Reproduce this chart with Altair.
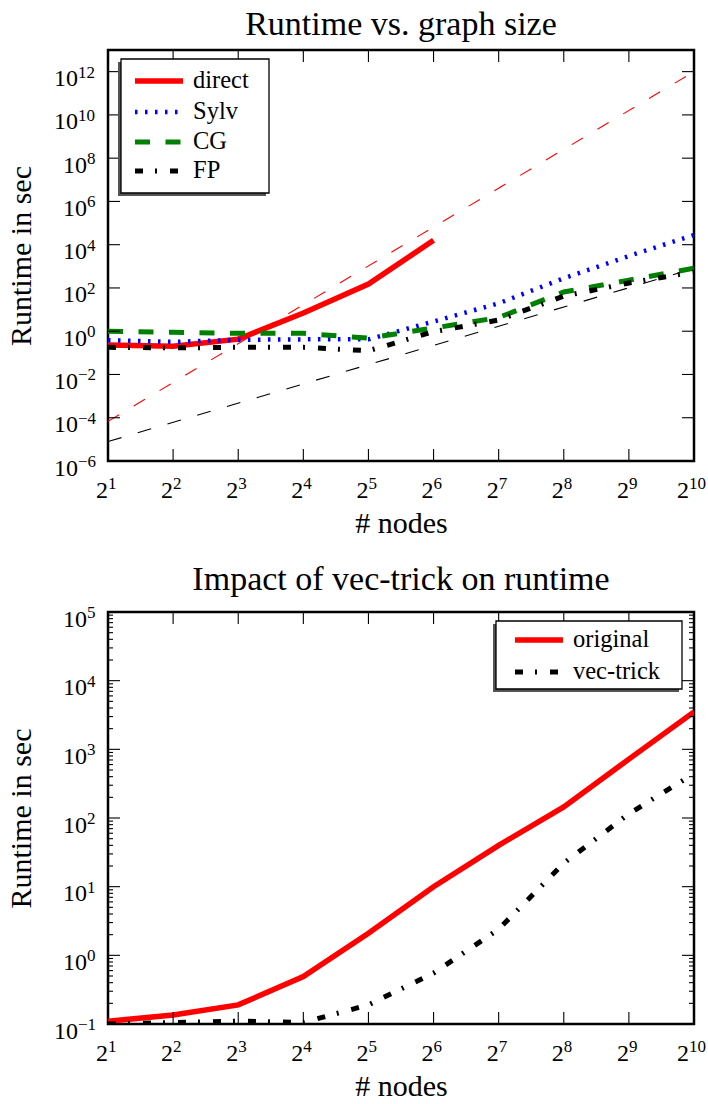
import altair as alt
import pandas as pd

# ---------------- data ----------------
nodes = [2, 4, 8, 16, 32, 64, 128, 256, 512, 1024]
direct_nodes = [2, 4, 8, 16, 32, 64]
direct = [0.23, 0.2, 0.43, 7.0, 150.0, 1.6e4]
sylv = [0.38, 0.32, 0.40, 0.42, 0.42, 2.8, 19.5, 280.0, 3000.0, 2.8e4]
cg = [1.0, 0.9, 0.8, 0.8, 0.48, 1.4, 4.3, 65.0, 230.0, 820.0]
fp = [0.18, 0.17, 0.18, 0.18, 0.125, 0.95, 3.3, 42.0, 170.0, 550.0]
ref_nodes = [2, 1024]
ref_direct = [6.8e-5, 1e12]
ref_fp = [7.9e-6, 790.0]

original = [0.11, 0.135, 0.19, 0.49, 2.1, 10.0, 40.0, 145.0, 720.0, 3500.0]
vec_trick = [0.1, 0.105, 0.11, 0.105, 0.19, 0.55, 2.4, 22.0, 115.0, 445.0]

# tick labels: base and exponent
x_ticks = [2, 4, 8, 16, 32, 64, 128, 256, 512, 1024]
x_exps = ["1", "2", "3", "4", "5", "6", "7", "8", "9", "10"]
top_y_ticks = [1e-6, 1e-4, 1e-2, 1.0, 1e2, 1e4, 1e6, 1e8, 1e10, 1e12]
top_y_exps = ["−6", "−4", "−2", "0", "2", "4", "6", "8", "10", "12"]
bot_y_ticks = [0.1, 1.0, 10.0, 100.0, 1e3, 1e4, 1e5]
bot_y_exps = ["−1", "0", "1", "2", "3", "4", "5"]
bot_minor = [k * 10.0 ** e for e in range(-1, 5) for k in range(2, 10)]

top_legend = [("direct", "#ff0000", None, 5.5), ("Sylv", "#0000ff", [2.5, 7.5], 4.5),
              ("CG", "#008000", [15, 15.5], 5), ("FP", "#000000", [8, 12, 2, 13], 5)]
bot_legend = [("original", "#ff0000", None, 5.5), ("vec-trick", "#000000", [8, 12, 2, 13], 5)]

FONT = "Liberation Serif"
W = 586
H1 = 411
H2 = 412
BASE_FS = 24
EXP_FS = 17

AX = dict(titleFont=FONT, titleFontSize=30, titleFontWeight="normal", titleColor="black",
          labels=False, ticks=False, domain=False, grid=False)


def X():
    return alt.X("n:Q",
                 scale=alt.Scale(type="log", base=2, domain=[2, 1024], nice=False),
                 axis=alt.Axis(title="# nodes", minExtent=40, maxExtent=40, titlePadding=7, **AX))


def Y(domain):
    return alt.Y("v:Q",
                 scale=alt.Scale(type="log", domain=domain, nice=False),
                 axis=alt.Axis(title="Runtime in sec", minExtent=64, maxExtent=64,
                               titlePadding=8, **AX))


def panel(series, yt, ye, ydom, H, major_y, minor_y, legend, box, title):
    y = lambda: Y(ydom)
    layers = []
    for xs, ys, color, width, dash in series:
        kw = dict(color=color, strokeWidth=width, clip=True, strokeCap="butt")
        if dash:
            kw["strokeDash"] = dash
        layers.append(alt.Chart(pd.DataFrame({"n": xs, "v": ys})).mark_line(**kw)
                      .encode(x=X(), y=y()))
    # inward ticks
    dfx = pd.DataFrame({"n": x_ticks[1:-1]})
    for y1, y2 in [(H, H - 12), (0, 12)]:
        layers.append(alt.Chart(dfx).mark_rule(color="black", strokeWidth=1.1)
                      .encode(x=X(), y=alt.value(y1), y2=alt.value(y2)))
    for vals, ln in [(major_y, 12), (minor_y, 5)]:
        if not vals:
            continue
        dfy = pd.DataFrame({"v": vals})
        for x1, x2 in [(0, ln), (W - ln, W)]:
            layers.append(alt.Chart(dfy).mark_rule(color="black", strokeWidth=1.1, clip=True)
                          .encode(y=y(), x=alt.value(x1), x2=alt.value(x2)))
    # tick labels (base + raised exponent)
    for g in (1, 2):
        sel = [(t, e) for t, e in zip(yt, ye) if len(e) == g]
        if sel:
            df = pd.DataFrame({"v": [t for t, _ in sel], "e": [e for _, e in sel]})
            xa = -12 - g * 9
            layers.append(alt.Chart(df).mark_text(text="10", font=FONT, fontSize=BASE_FS,
                                                  align="right", baseline="middle", dy=7.5,
                                                  color="black")
                          .encode(y=y(), x=alt.value(xa)))
            layers.append(alt.Chart(df).mark_text(font=FONT, fontSize=EXP_FS, align="left",
                                                  baseline="middle", dy=1, color="black")
                          .encode(y=y(), x=alt.value(xa), text="e:N"))
        selx = [(t, e) for t, e in zip(x_ticks, x_exps) if len(e) == g]
        dfx2 = pd.DataFrame({"n": [t for t, _ in selx], "e": [e for _, e in selx]})
        dx = 0 if g == 1 else -5
        layers.append(alt.Chart(dfx2).mark_text(text="2", font=FONT, fontSize=BASE_FS,
                                                align="right", baseline="middle", dx=dx,
                                                color="black")
                      .encode(x=X(), y=alt.value(H + 29.5)))
        layers.append(alt.Chart(dfx2).mark_text(font=FONT, fontSize=EXP_FS, align="left",
                                                baseline="middle", dx=dx, color="black")
                      .encode(x=X(), y=alt.value(H + 23), text="e:N"))
    # legend
    dummy = pd.DataFrame({"k": [0]})
    bx1, by1, bx2, by2, rows_y, sx1, sx2, tx = box
    layers.append(alt.Chart(dummy).mark_rect(color="#555555")
                  .encode(x=alt.value(bx1 - 3), x2=alt.value(bx2 - 3),
                          y=alt.value(by1 + 3), y2=alt.value(by2 + 3)))
    layers.append(alt.Chart(dummy).mark_rect(fill="white", stroke="black", strokeWidth=1.3)
                  .encode(x=alt.value(bx1), x2=alt.value(bx2), y=alt.value(by1), y2=alt.value(by2)))
    for (label, color, dash, width), ry in zip(legend, rows_y):
        kw = dict(color=color, strokeWidth=width, strokeCap="butt")
        if dash:
            kw["strokeDash"] = dash
        layers.append(alt.Chart(dummy).mark_rule(**kw)
                      .encode(x=alt.value(sx1), x2=alt.value(sx2), y=alt.value(ry)))
        layers.append(alt.Chart(dummy).mark_text(text=label, font=FONT, fontSize=24.5,
                                                 align="left", baseline="middle", color="black")
                      .encode(x=alt.value(tx), y=alt.value(ry)))
    return alt.layer(*layers).properties(width=W, height=H,
                                         title=alt.TitleParams(title, frame="group"))


top_series = [
    (ref_nodes, ref_direct, "#ff0000", 1.1, [13, 17]),
    (ref_nodes, ref_fp, "#000000", 1.1, [14, 17]),
    (direct_nodes, direct, "#ff0000", 5.5, None),
    (nodes, sylv, "#0000ff", 4.5, [2.5, 7.5]),
    (nodes, cg, "#008000", 5, [15, 15.5]),
    (nodes, fp, "#000000", 5, [8, 12, 2, 13]),
]
bot_series = [
    (nodes, original, "#ff0000", 5.5, None),
    (nodes, vec_trick, "#000000", 5, [8, 12, 2, 13]),
]

top = panel(top_series, top_y_ticks, top_y_exps, [1e-6, 1e13], H1,
            top_y_ticks[1:], [], top_legend,
            (13, 9, 161, 143, [31, 62, 92, 121], 27, 75, 85), "Runtime vs. graph size")
bot = panel(bot_series, bot_y_ticks, bot_y_exps, [0.1, 1e5], H2,
            bot_y_ticks[1:-1], bot_minor, bot_legend,
            (388, 9, 574, 77, [28, 60], 407, 455, 465), "Impact of vec-trick on runtime")

chart = (alt.vconcat(top, bot, spacing=21)
         .properties(padding={"left": 4, "top": 7, "right": 0, "bottom": 0})
         .configure(font=FONT)
         .configure_view(stroke="black", strokeWidth=2.5)
         .configure_title(font=FONT, fontSize=34, fontWeight="normal", color="black",
                          anchor="middle", baseline="bottom", offset=7))

chart.save("out.html", embed_options={"renderer": "svg", "actions": False})
